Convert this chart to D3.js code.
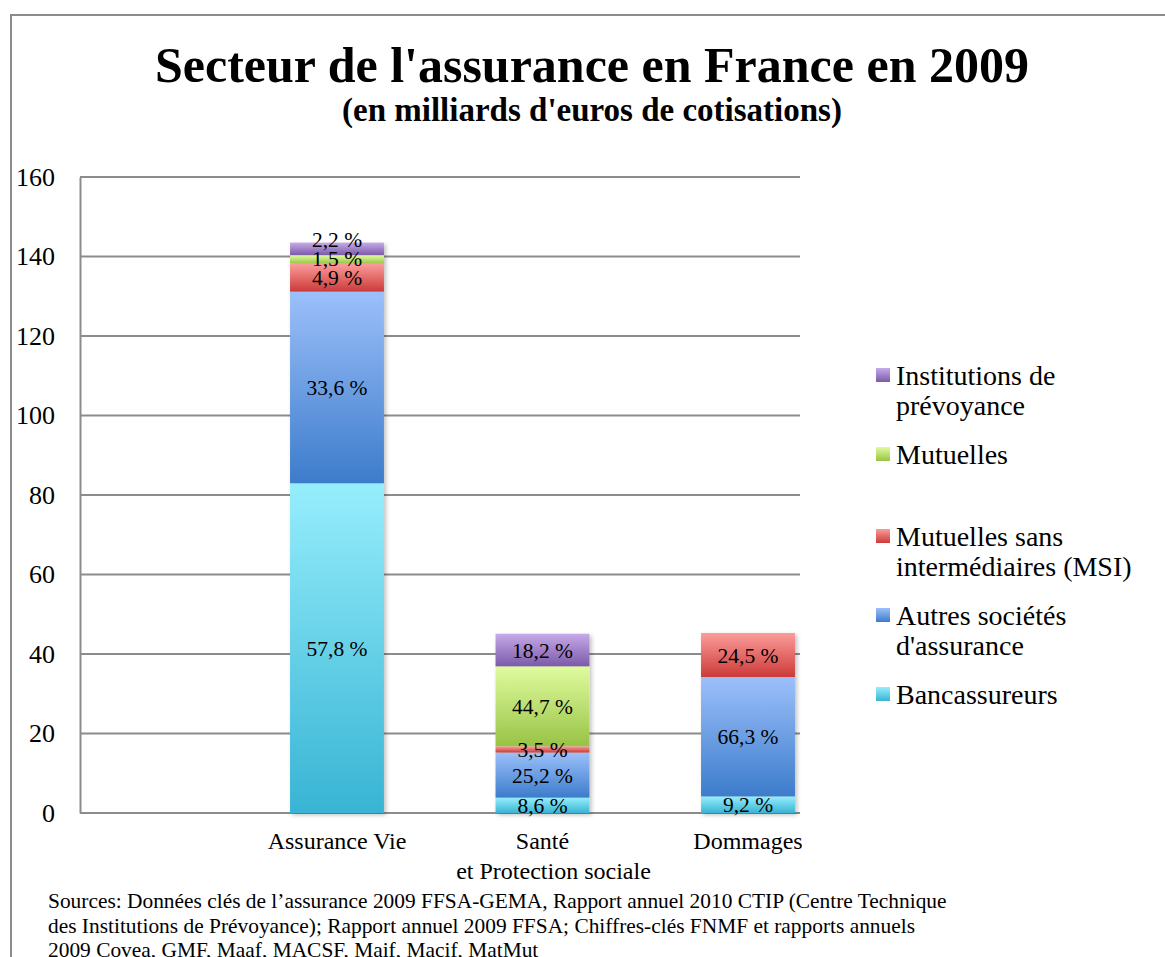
<!DOCTYPE html>
<html>
<head>
<meta charset="utf-8">
<script src="https://cdn.jsdelivr.net/npm/d3@7"></script>
<style>
  body { margin: 0; background: #fff; }
  text { font-family: "Liberation Serif", "DejaVu Serif", serif; fill: #000; }
</style>
</head>
<body>
<div id="chart"></div>
<script>
// categories and series
let categories = ["Assurance Vie", "Santé", "Dommages"];
let categorySub = ["", "et Protection sociale", ""];
let series = ["Bancassureurs", "Autres sociétés d'assurance", "Mutuelles sans intermédiaires (MSI)", "Mutuelles", "Institutions de prévoyance"];
let legendLabels = [["Institutions de", "prévoyance"], ["Mutuelles"], ["Mutuelles sans", "intermédiaires (MSI)"], ["Autres sociétés", "d'assurance"], ["Bancassureurs"]];

// totals in billions of euros
let totals = [143.5, 45.0, 45.3];
// share of each series in each category (%), null = no segment
let bancassureurs = [57.8, 8.6, 9.2];
let autres = [33.6, 25.2, 66.3];
let msi = [4.9, 3.5, 24.5];
let mutuelles = [1.5, 44.7, null];
let prevoyance = [2.2, 18.2, null];

let yTicks = [0, 20, 40, 60, 80, 100, 120, 140, 160];
let sources = [
  "Sources: Données clés de l’assurance 2009 FFSA-GEMA, Rapport annuel 2010 CTIP (Centre Technique",
  "des Institutions de Prévoyance); Rapport annuel 2009 FFSA; Chiffres-clés FNMF et rapports annuels",
  "2009 Covea, GMF, Maaf, MACSF, Maif, Macif, MatMut"
];

// gradient colours per series: [top, bottom]
let colors = [
  ["#96eefc", "#38b4d4"],
  ["#9cc0fa", "#3c7ccb"],
  ["#fb9d9b", "#cc3a38"],
  ["#e0fc9f", "#98c346"],
  ["#c6aaea", "#7b5aa8"]
];

let W = 1165, H = 957;
let plot = {left: 80, right: 800, top: 177, bottom: 813};

let svg = d3.select("#chart").append("svg")
  .attr("width", W).attr("height", H);

let defs = svg.append("defs");
colors.forEach(function(c, i) {
  let g = defs.append("linearGradient").attr("id", "grad" + i)
    .attr("x1", 0).attr("y1", 0).attr("x2", 0).attr("y2", 1);
  g.append("stop").attr("offset", "0%").attr("stop-color", c[0]);
  g.append("stop").attr("offset", "100%").attr("stop-color", c[1]);
});
let f = defs.append("filter").attr("id", "shadow")
  .attr("x", "-10%").attr("y", "-10%").attr("width", "130%").attr("height", "130%");
f.append("feDropShadow").attr("dx", 2).attr("dy", 2).attr("stdDeviation", 2)
  .attr("flood-color", "#000").attr("flood-opacity", 0.25);

// outer frame
svg.append("path")
  .attr("d", "M11,957 L11,15 L1165,15")
  .attr("fill", "none").attr("stroke", "#8c8c8c").attr("stroke-width", 2);

// titles
svg.append("text").attr("x", 592).attr("y", 82)
  .attr("text-anchor", "middle").style("font-size", "50px").style("font-weight", "bold")
  .text("Secteur de l'assurance en France en 2009");
svg.append("text").attr("x", 592).attr("y", 121)
  .attr("text-anchor", "middle").style("font-size", "33px").style("font-weight", "bold")
  .text("(en milliards d'euros de cotisations)");

// scales
let y = d3.scaleLinear().domain([0, 160]).range([plot.bottom, plot.top]);
let step = 205.5;
let x = d3.scaleBand()
  .domain(categories)
  .range([337 - step / 2, 337 + step * 2.5])
  .paddingInner(0.543).paddingOuter(0.2715);

// gridlines
svg.append("g")
  .selectAll("line").data(yTicks).enter().append("line")
    .attr("x1", plot.left).attr("x2", plot.right)
    .attr("y1", function(d) { return y(d); }).attr("y2", function(d) { return y(d); })
    .attr("stroke", "#8c8c8c").attr("stroke-width", 2);

// y axis
let yAxis = svg.append("g")
  .attr("transform", "translate(" + plot.left + ",0)")
  .call(d3.axisLeft(y).tickValues(yTicks).tickSize(0).tickPadding(25));
yAxis.select(".domain").attr("stroke", "#8c8c8c").attr("stroke-width", 2);
yAxis.selectAll("text").style("font-family", "Liberation Serif").style("font-size", "26px");

// build stacked data
let shares = [bancassureurs, autres, msi, mutuelles, prevoyance];
let rows = categories.map(function(c, ci) {
  let row = {cat: c};
  series.forEach(function(s, si) {
    row[s] = shares[si][ci] == null ? 0 : shares[si][ci] * totals[ci] / 100;
  });
  return row;
});
let stacked = d3.stack().keys(series)(rows);

// bars
let layers = svg.append("g").attr("filter", "url(#shadow)")
  .selectAll("g").data(stacked).enter().append("g")
    .attr("fill", function(d, i) { return "url(#grad" + i + ")"; });
layers.selectAll("rect")
  .data(function(d) { return d.filter(function(p) { return p[1] - p[0] > 0; }); })
  .enter().append("rect")
    .attr("x", function(d) { return x(d.data.cat); })
    .attr("y", function(d) { return y(d[1]); })
    .attr("width", x.bandwidth())
    .attr("height", function(d) { return y(d[0]) - y(d[1]); });

// data labels, pushed up when they overlap
categories.forEach(function(c, ci) {
  let labels = [];
  stacked.forEach(function(layer, si) {
    let p = layer[ci];
    if (p[1] - p[0] <= 0) return;
    labels.push({pos: y((p[0] + p[1]) / 2), text: String(shares[si][ci]).replace(".", ",") + " %"});
  });
  for (let i = 1; i < labels.length; i++) {
    if (labels[i - 1].pos - labels[i].pos < 19) labels[i].pos = labels[i - 1].pos - 19;
  }
  svg.append("g").selectAll("text").data(labels).enter().append("text")
    .attr("x", x(c) + x.bandwidth() / 2)
    .attr("y", function(d) { return d.pos; })
    .attr("dy", "0.35em")
    .attr("text-anchor", "middle")
    .style("font-size", "21.5px")
    .text(function(d) { return d.text; });
});

// x axis labels
svg.append("g").selectAll("text").data(categories).enter().append("text")
  .attr("x", function(d) { return x(d) + x.bandwidth() / 2; })
  .attr("y", 849)
  .attr("text-anchor", "middle")
  .style("font-size", "24px")
  .text(function(d) { return d; });
svg.append("g").selectAll("text").data(categorySub).enter().append("text")
  .attr("x", function(d, i) { return x(categories[i]) + x.bandwidth() / 2 + 11; })
  .attr("y", 879)
  .attr("text-anchor", "middle")
  .style("font-size", "24px")
  .text(function(d) { return d; });

// legend
let legendY = [376, 455, 537, 616, 695];
legendLabels.forEach(function(lines, i) {
  let si = series.length - 1 - i;
  svg.append("rect")
    .attr("x", 876).attr("y", legendY[i] - 8)
    .attr("width", 14).attr("height", 14)
    .attr("fill", "url(#grad" + si + ")");
  let t = svg.append("text").attr("x", 896).attr("y", legendY[i] + 9)
    .style("font-size", "28px");
  lines.forEach(function(line, li) {
    t.append("tspan").attr("x", 896).attr("dy", li ? 30 : 0).text(line);
  });
});

// sources
svg.append("g").selectAll("text").data(sources).enter().append("text")
  .attr("x", 48)
  .attr("y", function(d, i) { return 908 + i * 24.5; })
  .style("font-size", "21.4px")
  .text(function(d) { return d; });
</script>
</body>
</html>
